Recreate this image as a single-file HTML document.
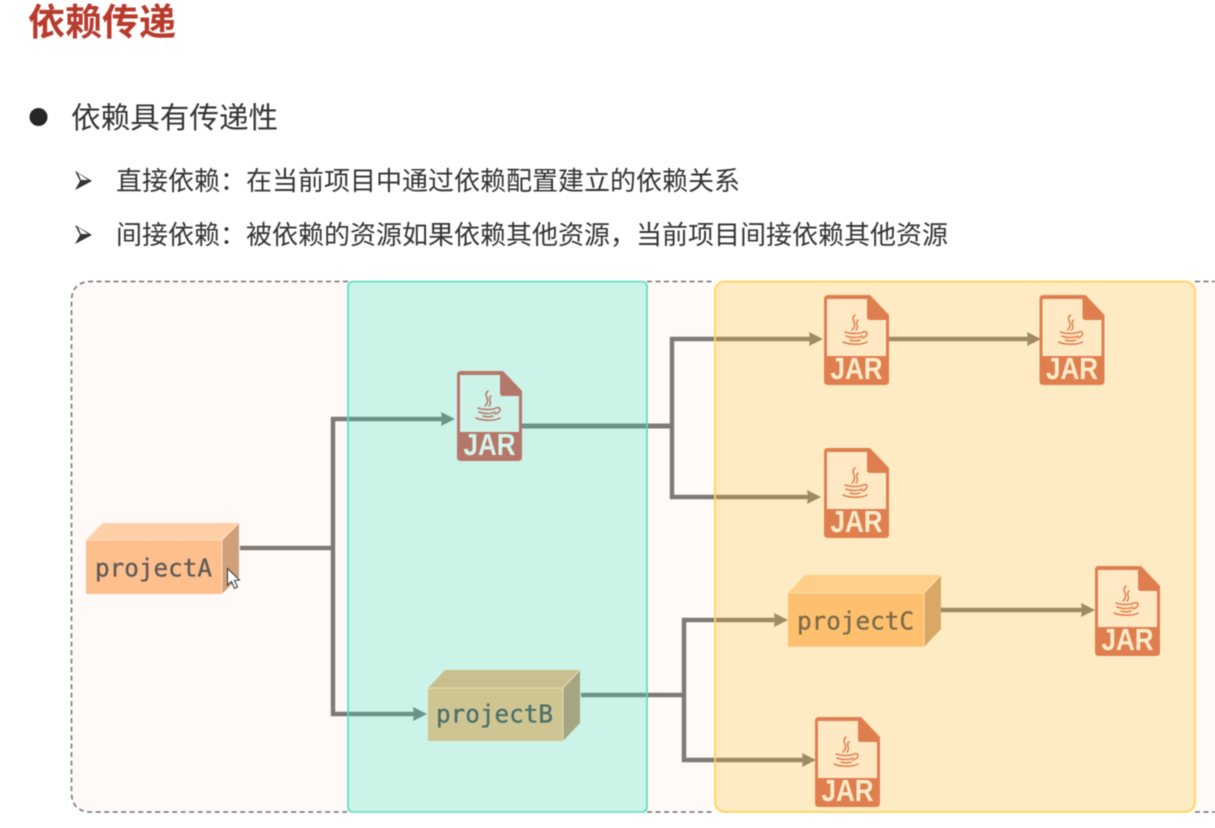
<!DOCTYPE html>
<html lang="zh">
<head>
<meta charset="utf-8">
<title>依赖传递</title>
<style>
html,body{margin:0;padding:0;background:#fff;width:1215px;height:828px;overflow:hidden}
svg{display:block;filter:blur(.4px)}
.cn{font-family:"Liberation Sans","Noto Sans CJK SC",sans-serif}
.mono{font-family:"DejaVu Sans Mono","Liberation Mono",monospace;font-size:25px;stroke-width:.3px}
.jar{font-family:"Liberation Sans",sans-serif;font-weight:700;font-size:30.5px}
.ln{fill:none;stroke:#7f7a76;stroke-width:4.4}
.cup{fill:none;stroke-width:1.5;stroke-linecap:round}
.dash{fill:none;stroke:#6f6f6f;stroke-width:1.5;stroke-dasharray:5 3.500}
</style>
</head>
<body>
<svg width="1215" height="828" viewBox="0 0 1215 828" xmlns="http://www.w3.org/2000/svg">
<rect width="1215" height="828" fill="#fff"/>

<text class="cn" x="28" y="35" font-size="37" font-weight="700" fill="#b83b2d">依赖传递</text>
<circle cx="38.500" cy="117" r="9" fill="#262626"/>
<text class="cn" x="71" y="128" font-size="29.6" fill="#333">依赖具有传递性</text>
<path d="M75 171 L92 181 L75 190 L80 181Z" fill="#333"/>
<path d="M78 173 L88 180 L81 180Z" fill="#fff"/>
<text class="cn" x="116" y="190" font-size="26" fill="#333">直接依赖：在当前项目中通过依赖配置建立的依赖关系</text>
<path d="M75 225 L92 235 L75 244 L80 235Z" fill="#333"/>
<path d="M78 227 L88 234 L81 234Z" fill="#fff"/>
<text class="cn" x="116" y="244" font-size="26" fill="#333">间接依赖：被依赖的资源如果依赖其他资源，当前项目间接依赖其他资源</text>

<path d="M1216 281.500 H91.500 Q71.500 281.500 71.500 301.500 V792 Q71.500 812 91.500 812 H1216 Z" fill="#fffaf7"/>
<path class="dash" d="M348 281.500 H91.500 Q71.500 281.500 71.500 301.500 V792 Q71.500 812 91.500 812 H348"/>
<path class="dash" d="M647 281.500 H715 M647 812 H715 M1195 281.500 H1215 M1195 812 H1215"/>

<!-- connectors -->
<path class="ln" d="M240 548 H333"/>
<path class="ln" d="M443 419 H333 V714 H415"/>
<path class="ln" style="stroke-width:5" d="M521 426 H672"/>
<path class="ln" d="M810 339 H672 V497 H808"/>
<path class="ln" d="M889 339 H1028"/>
<path class="ln" d="M581 695 H684"/>
<path class="ln" d="M775 620 H684 V760 H803"/>
<path class="ln" d="M941 610 H1082"/>
<g fill="#7f7a76">
<path d="M455 419 L441 412 L442 419 L441 426Z"/>
<path d="M427 714 L413 707 L414 714 L413 721Z"/>
<path d="M823 339 L809 332 L810 339 L809 346Z"/>
<path d="M821 497 L807 490 L808 497 L807 504Z"/>
<path d="M1041 339 L1027 332 L1028 339 L1027 346Z"/>
<path d="M788 620 L774 613 L775 620 L774 627Z"/>
<path d="M816 760 L802 753 L803 760 L802 767Z"/>
<path d="M1095 610 L1081 603 L1082 610 L1081 617Z"/>
</g>

<!-- regions -->
<rect x="348" y="281.500" width="299" height="530.500" rx="5" fill="#33deBB" fill-opacity=".25" stroke="#4fdfbf" stroke-width="1.6"/>
<rect x="715" y="281.500" width="480" height="530.500" rx="10" fill="#ffbe28" fill-opacity=".25" stroke="#ffd45c" stroke-width="1.8"/>

<!-- projectA -->
<path d="M86 540 L103 523 H239 L222 540Z" fill="#ffd0a8"/>
<path d="M222 540 L239 523 V577 L222 594Z" fill="#cfa17a"/>
<rect x="86" y="540" width="136" height="54" fill="#ffbf8d"/>
<path d="M86 540 H222 L239 523 M222 540 V594" fill="none" stroke="#ffe0c6" stroke-width="1"/>
<text class="mono" x="95" y="576.500" textLength="117" lengthAdjust="spacingAndGlyphs" fill="#5d5a58" stroke="#5d5a58">projectA</text>
<path d="M227.500 568.500 V585 L231.500 581.500 L234.500 588.500 L237.500 587 L234.500 580.500 L239.500 580Z" fill="#fff" stroke="#333" stroke-width="1"/>

<!-- projectB -->
<path d="M428 688 L445 670 H580 L563 688Z" fill="#c9bf8f"/>
<path d="M563 688 L580 670 V723 L563 741Z" fill="#a6a583"/>
<rect x="428" y="688" width="135" height="53" fill="#cfc592"/>
<path d="M428 688 H563 L580 670 M563 688 V741" fill="none" stroke="#dfe0b6" stroke-width="1"/>
<text class="mono" x="436" y="722.500" textLength="117" lengthAdjust="spacingAndGlyphs" fill="#47706b" stroke="#47706b">projectB</text>

<!-- projectC -->
<path d="M788 593 L805 575 H941 L924 593Z" fill="#fecf88"/>
<path d="M924 593 L941 575 V629 L924 647Z" fill="#d9a865"/>
<rect x="788" y="593" width="136" height="54" fill="#febf6e"/>
<path d="M788 593 H924 L941 575 M924 593 V647 M788 647 H924" fill="none" stroke="#ffe2ad" stroke-width="1"/>
<text class="mono" x="797" y="629.500" textLength="117" lengthAdjust="spacingAndGlyphs" fill="#7b6a48" stroke="#7b6a48">projectC</text>

<!-- JAR teal -->
<g transform="translate(457,371)">
<path d="M4 0 H46 L65 20 V86 Q65 90 61 90 H4 Q0 90 0 86 V4 Q0 0 4 0Z" fill="#b5776a"/>
<path d="M3 4 H43 V22 Q43 25 46 25 H62 V61 H3Z" fill="#cdf3e8"/>
<g class="cup" stroke="#b5776a">
<path d="M31 20 C25 25 35 28 28 35 M34 25 C30 28 36 31 32 35"/>
<path d="M21 37 C27 39 36 39 39 37 M22 41 C27 43 34 43 38 41 M26 45 C29 46 33 46 36 45 M39 37 C45 35 44 42 38 43 M19 47 C26 50 38 50 43 47"/>
</g>
<text class="jar" x="6.500" y="84" textLength="52" lengthAdjust="spacingAndGlyphs" fill="#d3f5ea">JAR</text>
</g>

<!-- JAR orange 1 -->
<g transform="translate(824,295)">
<path d="M4 0 H46 L65 20 V86 Q65 90 61 90 H4 Q0 90 0 86 V4 Q0 0 4 0Z" fill="#df7f4f"/>
<path d="M3 4 H43 V22 Q43 25 46 25 H62 V61 H3Z" fill="#ffe9c4"/>
<g class="cup" stroke="#df7f4f">
<path d="M31 20 C25 25 35 28 28 35 M34 25 C30 28 36 31 32 35"/>
<path d="M21 37 C27 39 36 39 39 37 M22 41 C27 43 34 43 38 41 M26 45 C29 46 33 46 36 45 M39 37 C45 35 44 42 38 43 M19 47 C26 50 38 50 43 47"/>
</g>
<text class="jar" x="6.500" y="84" textLength="52" lengthAdjust="spacingAndGlyphs" fill="#ffeccb">JAR</text>
</g>

<!-- JAR orange 2 -->
<g transform="translate(1039.500,295)">
<path d="M4 0 H46 L65 20 V86 Q65 90 61 90 H4 Q0 90 0 86 V4 Q0 0 4 0Z" fill="#df7f4f"/>
<path d="M3 4 H43 V22 Q43 25 46 25 H62 V61 H3Z" fill="#ffe9c4"/>
<g class="cup" stroke="#df7f4f">
<path d="M31 20 C25 25 35 28 28 35 M34 25 C30 28 36 31 32 35"/>
<path d="M21 37 C27 39 36 39 39 37 M22 41 C27 43 34 43 38 41 M26 45 C29 46 33 46 36 45 M39 37 C45 35 44 42 38 43 M19 47 C26 50 38 50 43 47"/>
</g>
<text class="jar" x="6.500" y="84" textLength="52" lengthAdjust="spacingAndGlyphs" fill="#ffeccb">JAR</text>
</g>

<!-- JAR orange 3 -->
<g transform="translate(824,448)">
<path d="M4 0 H46 L65 20 V86 Q65 90 61 90 H4 Q0 90 0 86 V4 Q0 0 4 0Z" fill="#df7f4f"/>
<path d="M3 4 H43 V22 Q43 25 46 25 H62 V61 H3Z" fill="#ffe9c4"/>
<g class="cup" stroke="#df7f4f">
<path d="M31 20 C25 25 35 28 28 35 M34 25 C30 28 36 31 32 35"/>
<path d="M21 37 C27 39 36 39 39 37 M22 41 C27 43 34 43 38 41 M26 45 C29 46 33 46 36 45 M39 37 C45 35 44 42 38 43 M19 47 C26 50 38 50 43 47"/>
</g>
<text class="jar" x="6.500" y="84" textLength="52" lengthAdjust="spacingAndGlyphs" fill="#ffeccb">JAR</text>
</g>

<!-- JAR orange 4 -->
<g transform="translate(1095,566)">
<path d="M4 0 H46 L65 20 V86 Q65 90 61 90 H4 Q0 90 0 86 V4 Q0 0 4 0Z" fill="#df7f4f"/>
<path d="M3 4 H43 V22 Q43 25 46 25 H62 V61 H3Z" fill="#ffe9c4"/>
<g class="cup" stroke="#df7f4f">
<path d="M31 20 C25 25 35 28 28 35 M34 25 C30 28 36 31 32 35"/>
<path d="M21 37 C27 39 36 39 39 37 M22 41 C27 43 34 43 38 41 M26 45 C29 46 33 46 36 45 M39 37 C45 35 44 42 38 43 M19 47 C26 50 38 50 43 47"/>
</g>
<text class="jar" x="6.500" y="84" textLength="52" lengthAdjust="spacingAndGlyphs" fill="#ffeccb">JAR</text>
</g>

<!-- JAR orange 5 -->
<g transform="translate(815,717)">
<path d="M4 0 H46 L65 20 V86 Q65 90 61 90 H4 Q0 90 0 86 V4 Q0 0 4 0Z" fill="#df7f4f"/>
<path d="M3 4 H43 V22 Q43 25 46 25 H62 V61 H3Z" fill="#ffe9c4"/>
<g class="cup" stroke="#df7f4f">
<path d="M31 20 C25 25 35 28 28 35 M34 25 C30 28 36 31 32 35"/>
<path d="M21 37 C27 39 36 39 39 37 M22 41 C27 43 34 43 38 41 M26 45 C29 46 33 46 36 45 M39 37 C45 35 44 42 38 43 M19 47 C26 50 38 50 43 47"/>
</g>
<text class="jar" x="6.500" y="84" textLength="52" lengthAdjust="spacingAndGlyphs" fill="#ffeccb">JAR</text>
</g>
</svg>
</body>
</html>
